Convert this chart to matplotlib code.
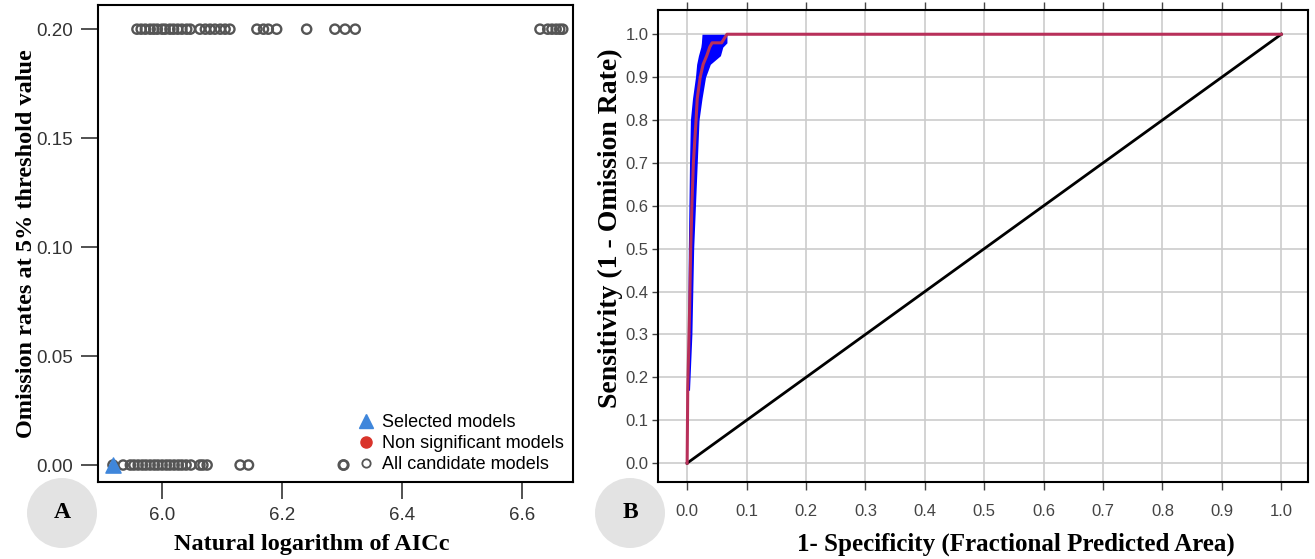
import matplotlib.pyplot as plt
from matplotlib.lines import Line2D
from matplotlib.patches import Ellipse

# ---- panel A data: ln(AICc) of candidate models at each omission rate ----
x_omit_020 = [5.958, 5.965, 5.972, 5.980, 5.986, 5.992, 6.000, 6.005, 6.013, 6.019,
              6.026, 6.033, 6.041, 6.047, 6.063, 6.072, 6.080, 6.088, 6.097, 6.105,
              6.113, 6.158, 6.169, 6.177, 6.191, 6.241, 6.288, 6.305, 6.322,
              6.630, 6.643, 6.650, 6.657, 6.663, 6.668]
x_omit_000 = [5.918, 5.935, 5.947, 5.953, 5.960, 5.967, 5.973, 5.980, 5.987, 5.993,
              6.000, 6.007, 6.013, 6.020, 6.027, 6.033, 6.040, 6.048, 6.063, 6.068,
              6.075, 6.130, 6.144, 6.302, 6.303]
selected_x = [5.918]
selected_y = [0.0]

# ---- panel B data: mean ROC and +/- sd band ----
roc_fpr = [0.0, 0.001, 0.004, 0.006, 0.008, 0.0105, 0.015, 0.017, 0.022, 0.027,
           0.033, 0.038, 0.042, 0.050, 0.058, 0.067, 1.0]
roc_tpr = [0.0, 0.17, 0.35, 0.50, 0.60, 0.70, 0.80, 0.85, 0.90, 0.93,
           0.95, 0.97, 0.98, 0.98, 0.98, 1.0, 1.0]
band_tpr = [0.17, 0.30, 0.50, 0.70, 0.80, 0.85, 0.90, 0.93, 0.95, 0.97, 0.98, 1.0]
band_lo = [0.000, 0.001, 0.002, 0.004, 0.0055, 0.009, 0.014, 0.016, 0.019, 0.023, 0.024, 0.025]
band_hi = [0.004, 0.008, 0.011, 0.017, 0.020, 0.025, 0.031, 0.039, 0.056, 0.060, 0.067, 0.067]

SERIF = "Liberation Serif"
SANS = "Liberation Sans"

fig = plt.figure(figsize=(13.15, 5.59), dpi=100)

# ---------------- panel A ----------------
axA = fig.add_axes([0.0745, 0.1377, 0.3612, 0.853])
gray = "#555555"
axA.scatter(x_omit_020, [0.2] * len(x_omit_020), s=44, facecolors="none",
            edgecolors=gray, linewidths=1.7, zorder=3)
axA.scatter(x_omit_000, [0.0] * len(x_omit_000), s=44, facecolors="none",
            edgecolors=gray, linewidths=1.7, zorder=3)
axA.scatter(selected_x, selected_y, marker="^", s=120, color="#3f86db", zorder=4)
axA.set_xlim(5.893, 6.685)
axA.set_ylim(-0.0078, 0.211)
axA.set_xticks([6.0, 6.2, 6.4, 6.6])
axA.set_yticks([0.0, 0.05, 0.10, 0.15, 0.20])
axA.set_xticklabels(["6.0", "6.2", "6.4", "6.6"])
axA.set_yticklabels(["0.00", "0.05", "0.10", "0.15", "0.20"])
axA.tick_params(length=12, width=1.2, pad=6, labelsize=13.5, labelcolor="#333333",
                color="#333333")
for lab in axA.get_xticklabels() + axA.get_yticklabels():
    lab.set_family(SANS)
for sp in axA.spines.values():
    sp.set_linewidth(1.5)
axA.set_xlabel("Natural logarithm of AICc", family=SERIF, fontweight="bold",
               fontsize=17.5)
axA.xaxis.set_label_coords(0.45, -0.108)
axA.set_ylabel("Omission rates at 5% threshold value", family=SERIF,
               fontweight="bold", fontsize=17.5)
axA.yaxis.set_label_coords(-0.128, 0.5)

handles = [
    Line2D([], [], marker="^", linestyle="none", color="#3f86db", markersize=10),
    Line2D([], [], marker="o", linestyle="none", color="#d9342b", markersize=8),
    Line2D([], [], marker="o", linestyle="none", markerfacecolor="none",
           markeredgecolor=gray, markersize=6, markeredgewidth=1.3),
]
axA.legend(handles, ["Selected models", "Non significant models", "All candidate models"],
           loc="lower right", bbox_to_anchor=(1.008, -0.008), frameon=False,
           prop={"family": SANS, "size": 13}, handletextpad=0.3,
           labelspacing=0.22, borderaxespad=0.3, handlelength=1.2)

# ---------------- panel B ----------------
axB = fig.add_axes([0.5004, 0.1377, 0.4943, 0.844])
axB.fill_betweenx(band_tpr, band_lo, band_hi, color="#0000ff", lw=0, zorder=2)
axB.plot([0, 1], [0, 1], color="black", lw=2, zorder=3)
axB.plot(roc_fpr, roc_tpr, color="#b8305a", lw=2.2, zorder=4)
axB.set_xlim(-0.049, 1.045)
axB.set_ylim(-0.044, 1.056)
ticksB = [i / 10 for i in range(11)]
axB.set_xticks(ticksB)
axB.set_yticks(ticksB)
axB.set_xticklabels([f"{t:.1f}" for t in ticksB])
axB.set_yticklabels([f"{t:.1f}" for t in ticksB])
axB.grid(True, color="#cccccc", lw=1.2, zorder=0)
axB.set_axisbelow(True)
axB.tick_params(length=4, width=1, pad=3, labelsize=12, labelcolor="#444444",
                color="#444444", direction="out")
axB.tick_params(axis="x", top=True, length=6, pad=10)
for lab in axB.get_xticklabels() + axB.get_yticklabels():
    lab.set_family(SANS)
for sp in axB.spines.values():
    sp.set_linewidth(1.5)
axB.set_xlabel("1- Specificity (Fractional Predicted Area)", family=SERIF,
               fontweight="bold", fontsize=18)
axB.xaxis.set_label_coords(0.551, -0.108)
axB.set_ylabel("Sensitivity (1 - Omission Rate)", family=SERIF, fontweight="bold",
               fontsize=20)
axB.yaxis.set_label_coords(-0.054, 0.538)

# ---------------- panel badges ----------------
for cx, cy, txt in [(62, 513, "A"), (630, 513, "B")]:
    fig.add_artist(Ellipse((cx / 1315, 1 - cy / 559), 70 / 1315, 70 / 559,
                           transform=fig.transFigure, color="#e3e3e3", lw=0))
    fig.text(cx / 1315, 1 - cy / 559, txt, family=SERIF, fontweight="bold",
             fontsize=17, ha="center", va="center")

fig.savefig("out.png", dpi=100)
